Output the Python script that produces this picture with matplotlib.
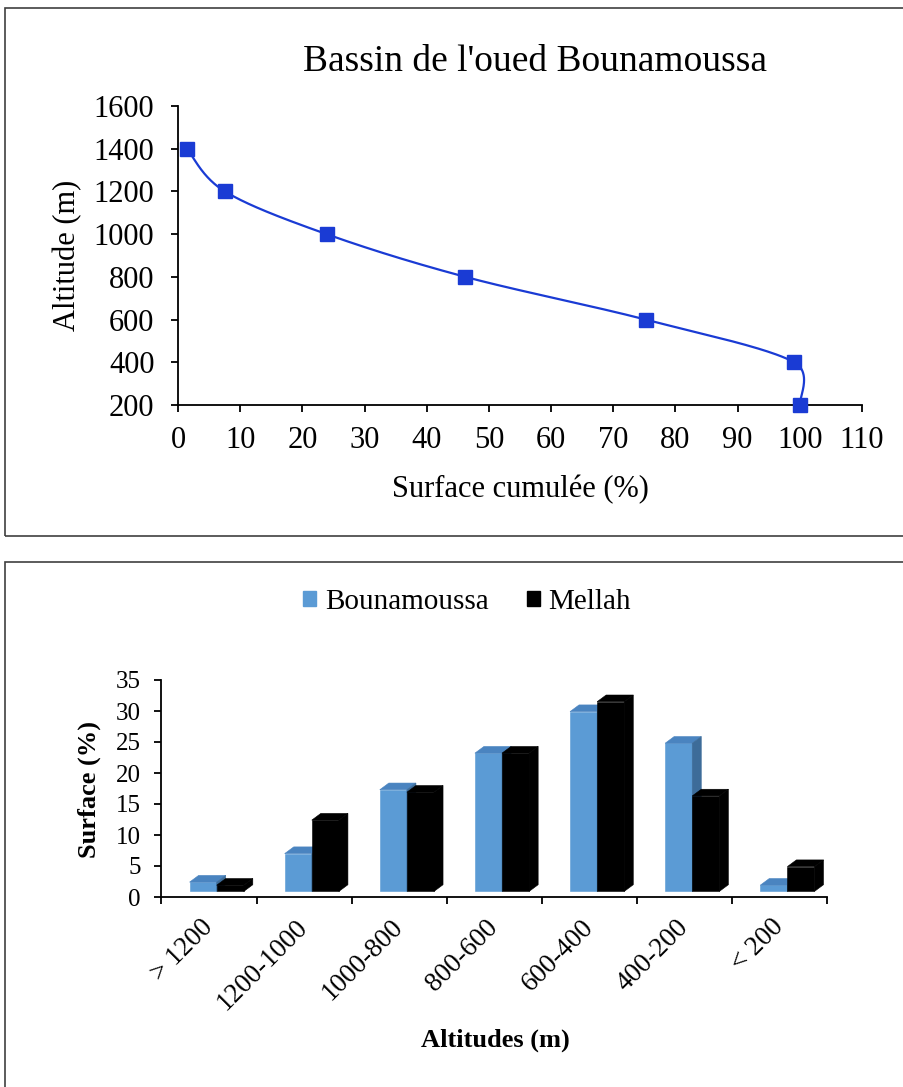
import numpy as np
import matplotlib
matplotlib.use("Agg")
import matplotlib.pyplot as plt
from matplotlib.patches import Rectangle, Polygon, Patch

# ---------------- data ----------------
surface_cum = [1.44, 7.54, 23.9, 46.2, 75.2, 99.1, 100.0]
altitude = [1400, 1200, 1000, 800, 600, 400, 200]

classes = ["> 1200", "1200-1000", "1000-800", "800-600", "600-400", "400-200", "< 200"]
bounamoussa = [1.5, 6.1, 16.4, 22.3, 29.0, 23.9, 1.0]
mellah = [1.0, 11.5, 16.0, 22.3, 30.6, 15.4, 4.0]

top_xticks = list(range(0, 111, 10))
top_yticks = list(range(200, 1601, 200))
bot_yticks = list(range(0, 36, 5))

plt.rcParams['font.family'] = ['Liberation Serif', 'DejaVu Serif']

W, H = 904, 1087
fig = plt.figure(figsize=(W / 100, H / 100), dpi=100)

def fx(px):
    return px / W

def fy(py):
    return 1 - py / H

# panel frames
fig.patches.append(Rectangle((fx(5), fy(536)), fx(920) - fx(5), fy(8) - fy(536),
                             transform=fig.transFigure, fill=False,
                             edgecolor='#3f3f3f', lw=1.2, zorder=0))
fig.patches.append(Rectangle((fx(5), fy(1100)), fx(920) - fx(5), fy(562) - fy(1100),
                             transform=fig.transFigure, fill=False,
                             edgecolor='#3f3f3f', lw=1.2, zorder=0))

# ---------------- top chart ----------------
ax1 = fig.add_axes([fx(178), fy(405), fx(862) - fx(178), fy(106) - fy(405)])
ax1.set_xlim(0, 110)
ax1.set_ylim(200, 1600)
ax1.set_xticks(top_xticks)
ax1.set_yticks(top_yticks)
for s in ['top', 'right']:
    ax1.spines[s].set_visible(False)
for s in ['left', 'bottom']:
    ax1.spines[s].set_linewidth(1.3)
ax1.tick_params(axis='both', direction='out', length=5, width=1.3, labelsize=22)
ax1.tick_params(axis='y', pad=12)
ax1.tick_params(axis='x', pad=10)

line_color = '#1a3bd4'
# Excel-like smoothed curve (Catmull-Rom Bezier in display space)
pts = ax1.transData.transform(np.column_stack([surface_cum, altitude]))
n = len(pts)
curve = []
t = np.linspace(0, 1, 60)[:, None]
for i in range(n - 1):
    P0 = pts[i - 1] if i > 0 else pts[i]
    P1 = pts[i]
    P2 = pts[i + 1]
    P3 = pts[i + 2] if i + 2 < n else pts[i + 1]
    c1 = P1 + (P2 - P0) / 6
    c2 = P2 - (P3 - P1) / 6
    # Excel limits the control arm to the segment length
    seglen = np.linalg.norm(P2 - P1)
    for c, P in ((c1, P1), (c2, P2)):
        d = c - P
        L = np.linalg.norm(d)
        if L > 0.5 * seglen:
            c[:] = P + d * (0.5 * seglen / L)
    seg = ((1 - t) ** 3) * P1 + 3 * ((1 - t) ** 2) * t * c1 + 3 * (1 - t) * t ** 2 * c2 + t ** 3 * P2
    curve.append(seg)
curve = np.vstack(curve)
curve_data = ax1.transData.inverted().transform(curve)
ax1.plot(curve_data[:, 0], curve_data[:, 1], color=line_color, lw=1.6, clip_on=False, zorder=3)
ax1.plot(surface_cum, altitude, linestyle='none', marker='s', markersize=9.5,
         color=line_color, clip_on=False, zorder=4)

fig.text(fx(535), fy(62), "Bassin de l'oued Bounamoussa", ha='center', va='center', fontsize=27)
fig.text(fx(520), fy(490), "Surface cumulée (%)", ha='center', va='center', fontsize=22)
fig.text(fx(68), fy(255), "Altitude (m)", ha='center', va='center', fontsize=22, rotation=90)

# ---------------- bottom chart ----------------
ax2 = fig.add_axes([fx(161.5), fy(897), fx(827.3) - fx(161.5), fy(680) - fy(897)])
ax2.set_xlim(0, len(classes))
ax2.set_ylim(0, 35)
ax2.set_yticks(bot_yticks)
ax2.set_xticks(range(len(classes) + 1))
ax2.set_xticklabels([])
centers = np.arange(len(classes)) + 0.5
ax2.set_xticks(centers, minor=True)
ax2.set_xticklabels(classes, minor=True, rotation=45, ha='right', va='center',
                    rotation_mode='anchor', fontsize=19.5)
ax2.tick_params(axis='x', which='minor', length=0, pad=19)
for s in ['top', 'right']:
    ax2.spines[s].set_visible(False)
for s in ['left', 'bottom']:
    ax2.spines[s].set_linewidth(1.3)
ax2.tick_params(axis='both', which='major', direction='out', length=5, width=1.3, labelsize=18)
ax2.tick_params(axis='y', pad=10)

base = 0.9      # front face raised above the floor edge
ddx = 0.095     # depth offset (category units)
ddy = 1.08      # depth offset (value units)
bw = 0.285

def bar3d(ax, xl, v, front, top, side):
    xr = xl + bw
    ax.bar(xl, v, width=bw, bottom=base, align='edge', color=front,
           edgecolor=front, lw=0.4, zorder=2)
    ax.add_patch(Polygon([(xl, base + v), (xr, base + v), (xr + ddx, base + v + ddy),
                          (xl + ddx, base + v + ddy)], closed=True, facecolor=top,
                         edgecolor=top, lw=0.4, zorder=2))
    ax.add_patch(Polygon([(xr, base), (xr + ddx, base + ddy), (xr + ddx, base + v + ddy),
                          (xr, base + v)], closed=True, facecolor=side,
                         edgecolor=side, lw=0.4, zorder=2))

for i in range(len(classes)):
    c = centers[i]
    bar3d(ax2, c - 0.205, bounamoussa[i], '#5b9bd5', '#4a84c0', '#3d6c99')
    bar3d(ax2, c - 0.205 + bw, mellah[i], '#000000', '#000000', '#000000')

fig.legend(handles=[Patch(color='#5b9bd5', label='Bounamoussa'),
                    Patch(color='#000000', label='Mellah')],
           loc='center', bbox_to_anchor=(fx(467), fy(602)), ncol=2, frameon=False,
           fontsize=21, handlelength=0.45, handleheight=0.45, handletextpad=0.3,
           columnspacing=1.3)

fig.text(fx(89), fy(789), "Surface (%)", ha='center', va='center', fontsize=19,
         fontweight='bold', rotation=90)
fig.text(fx(495), fy(1040), "Altitudes (m)", ha='center', va='center', fontsize=19,
         fontweight='bold')

fig.savefig("out.png", dpi=100)
